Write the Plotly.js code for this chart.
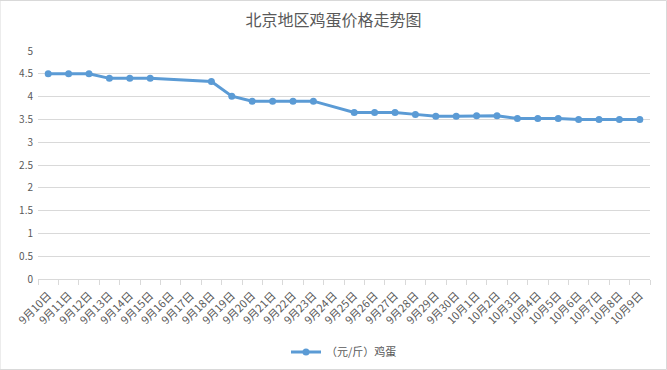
<!DOCTYPE html>
<html>
<head>
<meta charset="utf-8">
<script src="https://cdn.plot.ly/plotly-3.0.1.min.js"></script>
<style>html,body{margin:0;padding:0;background:#fff;}#chart{width:667px;height:370px;}</style>
</head>
<body>
<div id="chart"></div>
<script>
const categories = ["9月10日","9月11日","9月12日","9月13日","9月14日","9月15日","9月16日","9月17日","9月18日","9月19日","9月20日","9月21日","9月22日","9月23日","9月24日","9月25日","9月26日","9月27日","9月28日","9月29日","9月30日","10月1日","10月2日","10月3日","10月4日","10月5日","10月6日","10月7日","10月8日","10月9日"];
const eggPrice = [4.5,4.5,4.5,4.4,4.4,4.4,null,null,4.33,4.01,3.9,3.9,3.9,3.9,null,3.65,3.65,3.65,3.61,3.57,3.57,3.58,3.58,3.52,3.52,3.52,3.5,3.5,3.5,3.5];
const seriesName = "（元/斤）鸡蛋";
const titleText = "北京地区鸡蛋价格走势图";
const yTicks = [0,0.5,1,1.5,2,2.5,3,3.5,4,4.5,5];

const font = '"Noto Sans CJK SC", "Microsoft YaHei", sans-serif';
const trace = {
  x: categories, y: eggPrice, name: seriesName, type: 'scatter', mode: 'lines+markers',
  connectgaps: true,
  line: {color: '#5b9bd5', width: 3},
  marker: {color: '#5b9bd5', size: 7}
};
const layout = {
  width: 667, height: 370,
  margin: {l: 38, r: 17, t: 51, b: 91, autoexpand: false},
  paper_bgcolor: '#fff', plot_bgcolor: '#fff',
  font: {family: font, color: '#595959', size: 10},
  title: {text: titleText, x: 0.5, xanchor: 'center', y: 0.945, yanchor: 'middle', font: {family: font, size: 16, color: '#595959'}},
  xaxis: {type: 'category', automargin: false, range: [-0.5, categories.length - 0.5], autorange: false,
    tickangle: -45, tickson: 'boundaries', ticks: 'outside', ticklen: 5, tickcolor: '#d9d9d9', ticklabelstandoff: 5,
    showline: true, linecolor: '#d9d9d9', linewidth: 1, showgrid: false, tickfont: {size: 11, color: '#595959'}, fixedrange: true},
  yaxis: {automargin: false, range: [0, 5], tickvals: yTicks, ticktext: yTicks.map(String), showgrid: true, gridcolor: '#d9d9d9', gridwidth: 1,
    zeroline: false, showline: false, ticks: '', tickfont: {size: 10, color: '#595959'}, ticklabelstandoff: 4},
  showlegend: true,
  legend: {orientation: 'h', x: 0.5, xanchor: 'center', y: -73/228, yanchor: 'middle', font: {size: 11, color: '#595959'}},
  shapes: [{type: 'rect', xref: 'paper', yref: 'paper', x0: -38/612, x1: 1 + 16.5/612, y0: -90.5/228, y1: 1 + 50.5/228,
    line: {color: '#d9d9d9', width: 1}}]
};
Plotly.newPlot('chart', [trace], layout, {displayModeBar: false, staticPlot: true});
</script>
</body>
</html>
